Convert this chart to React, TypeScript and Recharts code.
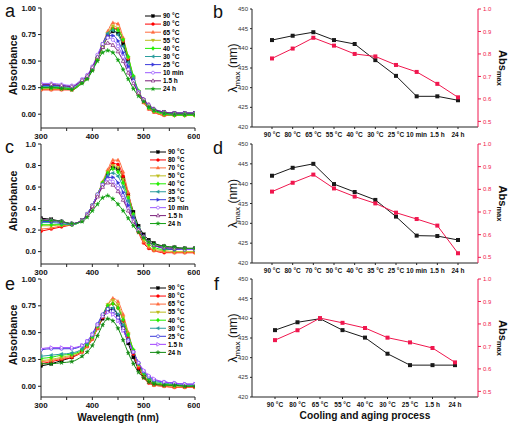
import React from "react";
import { LineChart, Line, XAxis, YAxis, Legend } from "recharts";

const FONT = "'Liberation Sans', Arial, Helvetica, sans-serif";
const AXIS = "#222";
const BLK = "#1a1a1a";
const RED = "#F0174E";

// wavelength grid (nm) shared by every spectrum
const wl = [300, 320, 340, 360, 380, 390, 400, 410, 420, 430, 440, 450, 460, 470, 480, 490, 500, 510, 520, 540, 560, 580, 600];

// panel a spectra
const a90 = [0.25, 0.25, 0.25, 0.24, 0.3, 0.34, 0.42, 0.52, 0.63, 0.73, 0.78, 0.76, 0.66, 0.5, 0.34, 0.21, 0.13, 0.07, 0.04, 0.02, 0.01, 0.01, 0.01];
const a80 = [0.23, 0.23, 0.23, 0.23, 0.3, 0.34, 0.42, 0.52, 0.64, 0.75, 0.81, 0.8, 0.69, 0.52, 0.34, 0.2, 0.11, 0.05, 0.02, -0.01, -0.01, -0.01, -0.01];
const a65 = [0.23, 0.23, 0.23, 0.23, 0.3, 0.34, 0.42, 0.53, 0.66, 0.78, 0.86, 0.85, 0.72, 0.54, 0.35, 0.2, 0.11, 0.05, 0.02, -0.01, -0.01, -0.01, -0.01];
const a55 = [0.24, 0.24, 0.24, 0.23, 0.3, 0.34, 0.42, 0.52, 0.64, 0.76, 0.83, 0.81, 0.7, 0.53, 0.35, 0.21, 0.12, 0.06, 0.03, 0.0, -0.01, -0.01, -0.01];
const a40 = [0.25, 0.25, 0.25, 0.24, 0.3, 0.34, 0.42, 0.52, 0.64, 0.75, 0.8, 0.79, 0.7, 0.54, 0.36, 0.22, 0.13, 0.06, 0.03, 0.0, -0.01, -0.01, -0.01];
const a30 = [0.26, 0.26, 0.26, 0.25, 0.31, 0.35, 0.43, 0.54, 0.66, 0.76, 0.79, 0.75, 0.64, 0.49, 0.34, 0.21, 0.13, 0.07, 0.04, 0.01, 0.0, 0.0, 0.0];
const a25 = [0.27, 0.27, 0.27, 0.26, 0.32, 0.36, 0.44, 0.55, 0.66, 0.74, 0.74, 0.69, 0.58, 0.45, 0.32, 0.21, 0.13, 0.08, 0.05, 0.02, 0.01, 0.01, 0.01];
const a10m = [0.29, 0.29, 0.28, 0.27, 0.33, 0.37, 0.45, 0.56, 0.66, 0.72, 0.7, 0.64, 0.54, 0.42, 0.31, 0.21, 0.14, 0.09, 0.05, 0.02, 0.01, 0.01, 0.01];
const a15h = [0.28, 0.28, 0.27, 0.26, 0.32, 0.36, 0.44, 0.54, 0.63, 0.67, 0.65, 0.59, 0.5, 0.39, 0.29, 0.2, 0.14, 0.09, 0.05, 0.02, 0.01, 0.01, 0.01];
const a24h = [0.25, 0.25, 0.24, 0.23, 0.29, 0.33, 0.41, 0.5, 0.58, 0.6, 0.58, 0.51, 0.42, 0.33, 0.24, 0.17, 0.12, 0.07, 0.04, 0.01, 0.0, 0.0, 0.0];

// panel c spectra
const c90 = [0.31, 0.3, 0.28, 0.26, 0.29, 0.34, 0.42, 0.52, 0.62, 0.72, 0.78, 0.77, 0.68, 0.53, 0.37, 0.24, 0.16, 0.11, 0.08, 0.05, 0.04, 0.03, 0.03];
const c80 = [0.19, 0.21, 0.23, 0.25, 0.29, 0.34, 0.42, 0.52, 0.63, 0.74, 0.82, 0.81, 0.7, 0.52, 0.33, 0.18, 0.08, 0.03, 0.01, -0.01, -0.01, -0.01, -0.01];
const c70 = [0.21, 0.22, 0.24, 0.25, 0.29, 0.35, 0.43, 0.53, 0.65, 0.76, 0.85, 0.85, 0.74, 0.55, 0.35, 0.19, 0.09, 0.04, 0.01, 0.0, -0.01, -0.01, -0.01];
const c50 = [0.24, 0.24, 0.25, 0.25, 0.29, 0.35, 0.43, 0.53, 0.64, 0.74, 0.8, 0.78, 0.67, 0.51, 0.34, 0.2, 0.11, 0.05, 0.02, 0.01, 0.0, 0.0, 0.0];
const c40 = [0.25, 0.25, 0.25, 0.25, 0.29, 0.35, 0.43, 0.53, 0.64, 0.73, 0.77, 0.74, 0.64, 0.5, 0.35, 0.22, 0.13, 0.07, 0.04, 0.02, 0.02, 0.02, 0.02];
const c35 = [0.27, 0.27, 0.26, 0.25, 0.29, 0.35, 0.43, 0.53, 0.63, 0.71, 0.73, 0.7, 0.6, 0.47, 0.33, 0.22, 0.14, 0.09, 0.06, 0.03, 0.02, 0.02, 0.02];
const c25 = [0.28, 0.28, 0.27, 0.26, 0.29, 0.35, 0.43, 0.53, 0.62, 0.69, 0.69, 0.64, 0.55, 0.43, 0.31, 0.21, 0.14, 0.09, 0.06, 0.03, 0.02, 0.02, 0.02];
const c10m = [0.29, 0.29, 0.28, 0.26, 0.29, 0.35, 0.43, 0.53, 0.62, 0.67, 0.65, 0.59, 0.5, 0.4, 0.29, 0.2, 0.14, 0.09, 0.06, 0.04, 0.03, 0.02, 0.02];
const c15h = [0.3, 0.29, 0.28, 0.26, 0.29, 0.34, 0.42, 0.51, 0.6, 0.64, 0.62, 0.56, 0.48, 0.38, 0.28, 0.2, 0.14, 0.09, 0.06, 0.04, 0.03, 0.03, 0.03];
const c24h = [0.29, 0.29, 0.28, 0.26, 0.28, 0.32, 0.38, 0.44, 0.5, 0.52, 0.49, 0.44, 0.38, 0.31, 0.24, 0.18, 0.13, 0.09, 0.07, 0.05, 0.04, 0.03, 0.03];

// panel e spectra
const e90 = [0.19, 0.21, 0.24, 0.27, 0.33, 0.38, 0.45, 0.54, 0.63, 0.7, 0.72, 0.66, 0.54, 0.4, 0.27, 0.16, 0.09, 0.05, 0.03, 0.01, 0.01, 0.0, 0.0];
const e80 = [0.21, 0.23, 0.25, 0.27, 0.32, 0.37, 0.44, 0.54, 0.64, 0.73, 0.77, 0.73, 0.61, 0.45, 0.3, 0.17, 0.08, 0.03, 0.01, 0.0, -0.01, -0.01, -0.01];
const e65 = [0.23, 0.24, 0.26, 0.28, 0.32, 0.37, 0.44, 0.54, 0.65, 0.76, 0.82, 0.79, 0.67, 0.5, 0.33, 0.19, 0.09, 0.04, 0.01, 0.0, -0.01, -0.01, -0.01];
const e55 = [0.24, 0.25, 0.27, 0.29, 0.33, 0.38, 0.45, 0.55, 0.66, 0.76, 0.8, 0.76, 0.64, 0.49, 0.33, 0.2, 0.11, 0.05, 0.02, 0.01, 0.0, 0.0, 0.0];
const e40 = [0.26, 0.27, 0.29, 0.3, 0.34, 0.39, 0.46, 0.56, 0.66, 0.75, 0.77, 0.73, 0.62, 0.48, 0.34, 0.21, 0.12, 0.07, 0.04, 0.02, 0.01, 0.01, 0.01];
const e30 = [0.28, 0.29, 0.3, 0.31, 0.35, 0.4, 0.47, 0.57, 0.66, 0.73, 0.73, 0.67, 0.57, 0.44, 0.32, 0.21, 0.13, 0.08, 0.05, 0.03, 0.02, 0.01, 0.01];
const e25 = [0.34, 0.35, 0.35, 0.35, 0.38, 0.42, 0.49, 0.58, 0.67, 0.72, 0.7, 0.64, 0.54, 0.43, 0.32, 0.22, 0.14, 0.09, 0.06, 0.04, 0.03, 0.02, 0.02];
const e15h = [0.35, 0.36, 0.36, 0.36, 0.38, 0.42, 0.48, 0.57, 0.65, 0.69, 0.67, 0.61, 0.52, 0.42, 0.32, 0.22, 0.15, 0.1, 0.07, 0.04, 0.03, 0.02, 0.02];
const e24h = [0.21, 0.21, 0.22, 0.23, 0.28, 0.32, 0.38, 0.47, 0.57, 0.63, 0.61, 0.54, 0.43, 0.31, 0.21, 0.13, 0.08, 0.04, 0.02, 0.01, 0.01, 0.0, 0.0];

// legend labels
const namesA = ["90 °C", "80 °C", "65 °C", "55 °C", "40 °C", "30 °C", "25 °C", "10 min", "1.5 h", "24 h"];
const namesC = ["90 °C", "80 °C", "70 °C", "50 °C", "40 °C", "35 °C", "25 °C", "10 min", "1.5 h", "24 h"];
const namesE = ["90 °C", "80 °C", "65 °C", "55 °C", "40 °C", "30 °C", "25 °C", "1.5 h", "24 h"];

// panels b, d, f: peak position and peak absorbance
const catsB = namesA;
const lamB = [442.1, 443.2, 444.1, 442.1, 441.1, 437.0, 433.0, 427.8, 427.8, 426.8];
const absB = [0.78, 0.824, 0.872, 0.837, 0.8, 0.789, 0.751, 0.72, 0.667, 0.607];
const catsD = namesC;
const lamD = [442.0, 444.0, 445.0, 439.9, 437.9, 435.9, 431.7, 426.9, 426.8, 425.8];
const absD = [0.79, 0.829, 0.865, 0.804, 0.768, 0.738, 0.697, 0.669, 0.64, 0.518];
const catsF = namesE;
const lamF = [437.0, 439.0, 439.9, 437.0, 435.1, 431.0, 428.1, 428.1, 428.1];
const absF = [0.728, 0.772, 0.826, 0.805, 0.782, 0.739, 0.718, 0.693, 0.629];

const colorsAC = ["#000000", "#FF0000", "#FF6B3D", "#BDBD1E", "#22EE00", "#2A9D9D", "#3B3BDB", "#9B59FF", "#7B1F7B", "#12A012"];
const shapesAC = ["square", "circle", "triUp", "triDown", "diamond", "triLeft", "triRight", "circleOpen", "triUpOpen", "star"];
const colorsE = ["#000000", "#FF0000", "#FF6B3D", "#BDBD1E", "#22EE00", "#2A9D9D", "#3B3BDB", "#A040FF", "#128A12"];
const shapesE = ["square", "circle", "triUp", "triDown", "diamond", "triLeft", "circleOpen", "triRightOpen", "star"];

type Series = { name: string; color: string; shape: string; values: number[] };

const mk = (names: string[], colors: string[], shapes: string[], vals: number[][]): Series[] =>
  names.map((n, i) => ({ name: n, color: colors[i], shape: shapes[i], values: vals[i] }));

const seriesA = mk(namesA, colorsAC, shapesAC, [a90, a80, a65, a55, a40, a30, a25, a10m, a15h, a24h]);
const seriesC = mk(namesC, colorsAC, shapesAC, [c90, c80, c70, c50, c40, c35, c25, c10m, c15h, c24h]);
const seriesE = mk(namesE, colorsE, shapesE, [e90, e80, e65, e55, e40, e30, e25, e15h, e24h]);

function Marker({ cx, cy, shape, color, r = 1.6 }: any) {
  if (cx == null || cy == null) return null;
  const open = { fill: "#fff", stroke: color, strokeWidth: 0.7 };
  const solid = { fill: color, stroke: color, strokeWidth: 0.3 };
  const pts = (p: number[][]) => p.map((q) => `${cx + q[0] * r},${cy + q[1] * r}`).join(" ");
  switch (shape) {
    case "square":
      return <rect x={cx - r} y={cy - r} width={2 * r} height={2 * r} {...solid} />;
    case "circle":
      return <circle cx={cx} cy={cy} r={r} {...solid} />;
    case "circleOpen":
      return <circle cx={cx} cy={cy} r={r} {...open} />;
    case "triUp":
      return <polygon points={pts([[0, -1.3], [1.2, 0.8], [-1.2, 0.8]])} {...solid} />;
    case "triUpOpen":
      return <polygon points={pts([[0, -1.3], [1.2, 0.8], [-1.2, 0.8]])} {...open} />;
    case "triDown":
      return <polygon points={pts([[0, 1.3], [1.2, -0.8], [-1.2, -0.8]])} {...solid} />;
    case "triLeft":
      return <polygon points={pts([[-1.3, 0], [0.8, -1.2], [0.8, 1.2]])} {...solid} />;
    case "triRight":
      return <polygon points={pts([[1.3, 0], [-0.8, -1.2], [-0.8, 1.2]])} {...solid} />;
    case "triRightOpen":
      return <polygon points={pts([[1.3, 0], [-0.8, -1.2], [-0.8, 1.2]])} {...open} />;
    case "diamond":
      return <polygon points={pts([[0, -1.4], [1.1, 0], [0, 1.4], [-1.1, 0]])} {...solid} />;
    default: {
      const p: number[][] = [];
      for (let k = 0; k < 10; k++) {
        const a = ((-90 + k * 36) * Math.PI) / 180;
        const rad = k % 2 ? 0.6 : 1.5;
        p.push([Math.cos(a) * rad, Math.sin(a) * rad]);
      }
      return <polygon points={pts(p)} {...solid} />;
    }
  }
}

const LegendBox = ({ series, gap }: { series: Series[]; gap: number }) => (
  <svg width={60} height={series.length * gap + 4} style={{ display: "block", overflow: "visible" }}>
    {series.map((s, i) => {
      const y = 4 + i * gap;
      return (
        <g key={s.name}>
          <line x1={0} x2={16} y1={y} y2={y} stroke={s.color} strokeWidth={1} />
          <Marker cx={8} cy={y} shape={s.shape} color={s.color} r={1.5} />
          <text x={18} y={y + 2.3} fontSize={6.5} fontWeight="bold" fontFamily={FONT} fill="#000">
            {s.name}
          </text>
        </g>
      );
    })}
  </svg>
);

const AbsorbanceLabel = (p: any) => {
  const vb = p.viewBox;
  const x = vb.x + 17;
  const y = vb.y + vb.height / 2 - 3;
  return (
    <text x={x} y={y} transform={`rotate(-90 ${x} ${y})`} textAnchor="middle" fontFamily={FONT} fontSize={10.5} fontWeight="bold" fill="#111">
      Absorbance
    </text>
  );
};

const LambdaLabel = (p: any) => {
  const vb = p.viewBox;
  const x = vb.x + 37;
  const y = vb.y + vb.height / 2;
  return (
    <text x={x} y={y} transform={`rotate(-90 ${x} ${y})`} textAnchor="middle" fontFamily={FONT} fontSize={12} fill="#111">
      λ<tspan fontSize={8} dy={2.5}>max</tspan>
      <tspan dy={-2.5}> (nm)</tspan>
    </text>
  );
};

const AbsMaxLabel = (p: any) => {
  const vb = p.viewBox;
  const x = vb.x + 21;
  const y = vb.y + vb.height / 2;
  return (
    <text x={x} y={y} transform={`rotate(90 ${x} ${y})`} textAnchor="middle" fontFamily={FONT} fontSize={11} fontWeight="bold" fill="#111">
      Abs<tspan fontSize={7.5} dy={2.5}>max</tspan>
    </text>
  );
};

const bottomTitle = (text: string, dy: number) => (p: any) => {
  const vb = p.viewBox;
  return (
    <text x={vb.x + vb.width / 2} y={vb.y + dy} textAnchor="middle" fontFamily={FONT} fontSize={10.2} fontWeight="bold" fill="#111">
      {text}
    </text>
  );
};

type SpecProps = {
  top: number;
  height: number;
  marginTop: number;
  xHeight: number;
  series: Series[];
  yMin: number;
  yTicks: number[];
  yDigits: number;
  legendX: number;
  legendY: number;
  legendGap: number;
  xTitle?: string;
};

const SpectrumPanel = ({ top, height, marginTop, xHeight, series, yMin, yTicks, yDigits, legendX, legendY, legendGap, xTitle }: SpecProps) => {
  const data = wl.map((w, i) => {
    const row: any = { w };
    series.forEach((s, k) => (row["s" + k] = s.values[i]));
    return row;
  });
  const tickStyle = { fontSize: 7.5, fontWeight: "bold", fill: "#111", fontFamily: FONT };
  return (
    <div style={{ position: "absolute", left: 0, top }}>
      <LineChart width={200} height={height} data={data} margin={{ top: marginTop, right: 5, bottom: 0, left: 0 }}>
        <XAxis
          dataKey="w"
          type="number"
          domain={[300, 600]}
          ticks={[300, 350, 400, 450, 500, 550, 600]}
          tickFormatter={(v: number) => (v % 100 === 0 ? String(v) : "")}
          height={xHeight}
          stroke={AXIS}
          tickSize={3}
          tickMargin={2}
          tick={{ ...tickStyle, fontSize: 8 }}
          allowDataOverflow
          label={xTitle ? { content: bottomTitle(xTitle, 24) } : undefined}
        />
        <XAxis xAxisId="top" orientation="top" dataKey="w" type="number" domain={[300, 600]} height={0} tick={false} tickLine={false} stroke={AXIS} />
        <YAxis
          type="number"
          domain={[yMin, 1]}
          ticks={yTicks}
          tickFormatter={(v: number) => v.toFixed(yDigits)}
          width={41}
          stroke={AXIS}
          tickSize={3}
          tickMargin={2}
          tick={tickStyle}
          allowDataOverflow
          label={{ content: AbsorbanceLabel }}
        />
        <YAxis yAxisId="border" orientation="right" width={0} domain={[0, 1]} tick={false} tickLine={false} stroke={AXIS} />
        <Legend
          layout="vertical"
          align="center"
          verticalAlign="middle"
          wrapperStyle={{ left: legendX, top: legendY - 4 - top, width: 60 }}
          content={() => <LegendBox series={series} gap={legendGap} />}
        />
        {series.map((s, k) => (
          <Line
            key={s.name}
            name={s.name}
            dataKey={"s" + k}
            type="monotone"
            stroke={s.color}
            strokeWidth={1}
            dot={(p: any) => <Marker key={`${s.name}-${p.index}`} cx={p.cx} cy={p.cy} shape={s.shape} color={s.color} />}
            activeDot={false}
            isAnimationActive={false}
          />
        ))}
      </LineChart>
    </div>
  );
};

type TrendProps = {
  top: number;
  height: number;
  xHeight: number;
  pad: number;
  cats: string[];
  lam: number[];
  abs: number[];
  xTitle?: string;
};

const TrendPanel = ({ top, height, xHeight, pad, cats, lam, abs, xTitle }: TrendProps) => {
  const data = cats.map((c, i) => ({ cat: c, lam: lam[i], abs: abs[i] }));
  return (
    <div style={{ position: "absolute", left: 200, top }}>
      <LineChart width={311} height={height} data={data} margin={{ top: 9, right: 0, bottom: 0, left: 0 }}>
        <XAxis
          dataKey="cat"
          type="category"
          height={xHeight}
          padding={{ left: pad, right: pad }}
          interval={0}
          stroke={AXIS}
          tickSize={2}
          tickMargin={3}
          tick={{ fontSize: 6.5, fontWeight: "bold", fill: "#111", fontFamily: FONT }}
          label={xTitle ? { content: bottomTitle(xTitle, 22) } : undefined}
        />
        <XAxis xAxisId="top" orientation="top" dataKey="cat" type="category" height={0} tick={false} tickLine={false} stroke={AXIS} />
        <YAxis
          yAxisId="l"
          type="number"
          domain={[420, 450]}
          ticks={[420, 425, 430, 435, 440, 445, 450]}
          width={52}
          stroke={AXIS}
          tickSize={2}
          tickMargin={2}
          tick={{ fontSize: 6, fill: "#333", fontFamily: FONT }}
          label={{ content: LambdaLabel }}
        />
        <YAxis
          yAxisId="r"
          orientation="right"
          type="number"
          domain={[0.475, 1]}
          ticks={[0.5, 0.6, 0.7, 0.8, 0.9, 1.0]}
          tickFormatter={(v: number) => v.toFixed(1)}
          width={33}
          stroke={RED}
          tickSize={3}
          tickMargin={2}
          tick={{ fontSize: 6, fill: RED, fontFamily: FONT }}
          label={{ content: AbsMaxLabel }}
        />
        <Line
          yAxisId="l"
          dataKey="lam"
          type="linear"
          stroke={BLK}
          strokeWidth={1}
          dot={(p: any) => <rect key={`l-${p.index}`} x={p.cx - 2} y={p.cy - 2} width={4} height={4} fill={BLK} />}
          activeDot={false}
          isAnimationActive={false}
        />
        <Line
          yAxisId="r"
          dataKey="abs"
          type="linear"
          stroke={RED}
          strokeWidth={1}
          dot={(p: any) => <rect key={`r-${p.index}`} x={p.cx - 2} y={p.cy - 2} width={4} height={4} fill={RED} />}
          activeDot={false}
          isAnimationActive={false}
        />
      </LineChart>
    </div>
  );
};

const letters = [
  { t: "a", x: 5, y: 17 },
  { t: "b", x: 213, y: 18 },
  { t: "c", x: 5, y: 153 },
  { t: "d", x: 213, y: 154 },
  { t: "e", x: 5, y: 290 },
  { t: "f", x: 214, y: 290 },
];

export default function App() {
  return (
    <div style={{ position: "absolute", left: 0, top: 0, width: 511, height: 426, background: "#fff", overflow: "hidden" }}>
      <SpectrumPanel top={0} height={145} marginTop={8} xHeight={17} series={seriesA} yMin={-0.13} yTicks={[0, 0.25, 0.5, 0.75, 1]} yDigits={2} legendX={145} legendY={15.5} legendGap={8.1} />
      <SpectrumPanel top={135} height={145} marginTop={9} xHeight={16} series={seriesC} yMin={-0.115} yTicks={[0, 0.2, 0.4, 0.6, 0.8, 1]} yDigits={1} legendX={150} legendY={151.5} legendGap={7.95} />
      <SpectrumPanel top={270} height={156} marginTop={9} xHeight={29} series={seriesE} yMin={-0.1} yTicks={[0, 0.25, 0.5, 0.75, 1]} yDigits={2} legendX={150} legendY={288.3} legendGap={8.05} xTitle="Wavelength (nm)" />
      <TrendPanel top={0} height={145} xHeight={18} pad={20} cats={catsB} lam={lamB} abs={absB} />
      <TrendPanel top={135} height={145} xHeight={17} pad={20} cats={catsD} lam={lamD} abs={absD} />
      <TrendPanel top={270} height={156} xHeight={29} pad={23} cats={catsF} lam={lamF} abs={absF} xTitle="Cooling and aging process" />
      <svg width={511} height={426} style={{ position: "absolute", left: 0, top: 0, pointerEvents: "none" }}>
        {letters.map((l) => (
          <text key={l.t} x={l.x} y={l.y} fontFamily={FONT} fontSize={18} fill="#111">
            {l.t}
          </text>
        ))}
      </svg>
    </div>
  );
}
